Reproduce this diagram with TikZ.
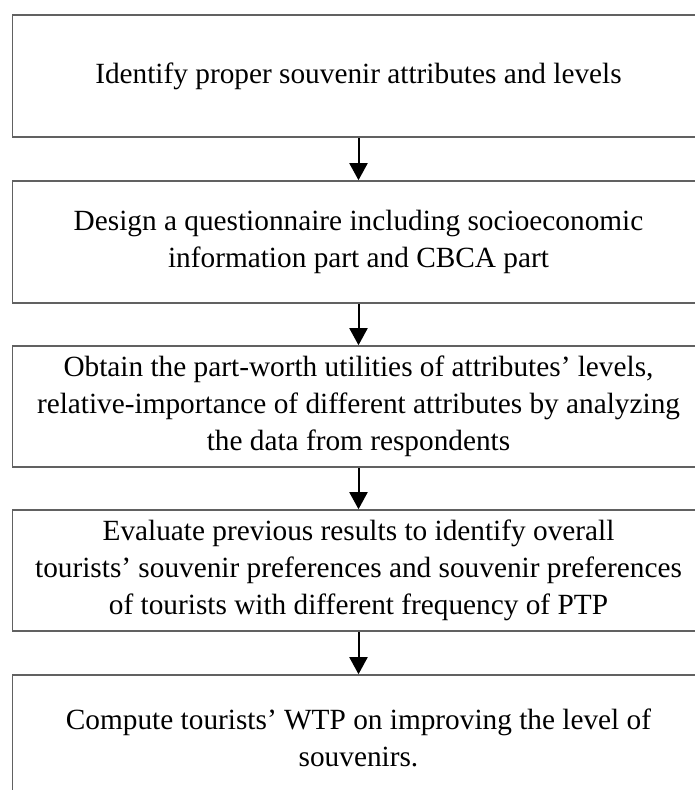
\documentclass[tikz,border=0pt]{standalone}
\usepackage{fontspec}
\setmainfont{Liberation Serif}
\usetikzlibrary{arrows.meta}
\begin{document}
\begin{tikzpicture}[x=1pt,y=-1pt,
  stepbox/.style={draw=black!62, line width=1.6pt, minimum width=692pt, align=center,
    inner sep=0pt, font=\fontsize{29.3}{37}\selectfont},
  flow/.style={line width=2pt, -{Triangle[width=18pt,length=17pt]}}]
\useasboundingbox (0,0) rectangle (695,790);
\clip (0,0) rectangle (695,790);
\node[stepbox, minimum height=122pt] (b1) at (358.5,76) {Identify proper souvenir attributes and levels};
\node[stepbox, minimum height=122pt] (b2) at (358.5,242) {Design a questionnaire including socioeconomic\\information part and CBCA part};
\node[stepbox, minimum height=121pt] (b3) at (358.5,406.5) {Obtain the part-worth utilities of attributes' levels,\\relative-importance of different attributes by analyzing\\the data from respondents};
\node[stepbox, minimum height=121pt] (b4) at (358.5,570.5) {Evaluate previous results to identify overall\\tourists' souvenir preferences and souvenir preferences\\of tourists with different frequency of PTP};
\node[stepbox, minimum height=125pt] (b5) at (358.5,737.5) {Compute tourists' WTP on improving the level of\\souvenirs.};
\draw[flow] (b1) -- (b2);
\draw[flow] (b2) -- (b3);
\draw[flow] (b3) -- (b4);
\draw[flow] (b4) -- (b5);
\end{tikzpicture}
\end{document}
